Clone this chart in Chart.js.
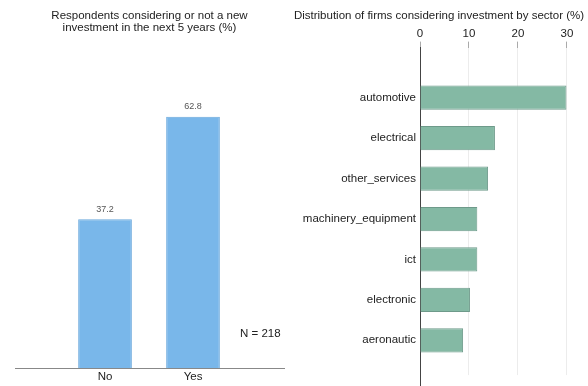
<!DOCTYPE html>
<html>
<head>
<meta charset="utf-8">
<script src="https://cdn.jsdelivr.net/npm/chart.js@4.4.1/dist/chart.umd.min.js"></script>
<style>
  body { margin: 0; background: #fff; }
  #wrap { position: relative; width: 588px; height: 386px; }
  #left { position: absolute; left: 0; top: 0; }
  #right { position: absolute; left: 290px; top: 0; }
</style>
</head>
<body>
<div id="wrap">
  <canvas id="left" width="290" height="386"></canvas>
  <canvas id="right" width="298" height="386"></canvas>
</div>
<script>
// left panel
const answers = ["No", "Yes"];
const answerPct = [37.2, 62.8];
const sampleNote = "N = 218";

// right panel
const sectors = ["automotive", "electrical", "other_services", "machinery_equipment", "ict", "electronic", "aeronautic"];
const sectorPct = [29.9, 15.3, 13.9, 11.7, 11.7, 10.2, 8.8];
const sectorTicks = [0, 10, 20, 30];

const fontFam = "'Liberation Sans', Arial, sans-serif";
Chart.defaults.font.family = fontFam;
Chart.defaults.color = "#222";
Chart.defaults.animation = false;

// valori sopra le barre + nota N
const leftLabels = {
  id: "leftLabels",
  afterDatasetsDraw(chart) {
    const ctx = chart.ctx;
    const meta = chart.getDatasetMeta(0);
    ctx.save();
    ctx.font = "9px " + fontFam;
    ctx.fillStyle = "#555";
    ctx.textAlign = "center";
    ctx.textBaseline = "middle";
    meta.data.forEach((bar, i) => {
      ctx.fillText(answerPct[i].toFixed(1), bar.x, bar.y - 10);
    });
    ctx.font = "11.5px " + fontFam;
    ctx.fillStyle = "#222";
    ctx.textAlign = "left";
    ctx.fillText(sampleNote, 240, 334);
    ctx.restore();
  }
};

// l'asse verticale arriva fino al bordo in basso
const axisToEdge = {
  id: "axisToEdge",
  afterDraw(chart) {
    const ctx = chart.ctx;
    const a = chart.chartArea;
    ctx.save();
    ctx.strokeStyle = "#444";
    ctx.lineWidth = 1;
    ctx.beginPath();
    ctx.moveTo(Math.round(a.left) + 0.5, a.bottom);
    ctx.lineTo(Math.round(a.left) + 0.5, chart.height);
    ctx.stroke();
    ctx.restore();
  }
};

new Chart(document.getElementById("left"), {
  type: "bar",
  data: {
    datasets: [{
      data: answers.map((a, i) => ({ x: i, y: answerPct[i] })),
      backgroundColor: "#79b7ea",
      borderColor: "#6aa8dc",
      borderWidth: 1,
      categoryPercentage: 1,
      barPercentage: 0.61
    }]
  },
  options: {
    responsive: false,
    layout: { padding: { left: 15, right: 6, bottom: 0 } },
    plugins: {
      legend: { display: false },
      tooltip: { enabled: false },
      title: {
        display: true,
        text: ["Respondents considering or not a new", "investment in the next 5 years (%)"],
        font: { size: 11.5, weight: "normal", lineHeight: 1.05 },
        color: "#222",
        padding: { top: 10, bottom: 12 }
      }
    },
    scales: {
      x: {
        type: "linear",
        offset: false,
        min: -1.023,
        max: 2.034,
        grid: { display: false, drawTicks: false },
        border: { color: "#888", width: 1 },
        afterBuildTicks: (s) => { s.ticks = answers.map((a, i) => ({ value: i })); },
        ticks: {
          padding: 2,
          font: { size: 11.5 },
          color: "#222",
          callback: (v) => answers[v]
        }
      },
      y: {
        display: false,
        min: 0,
        max: 80.4
      }
    }
  },
  plugins: [leftLabels]
});

new Chart(document.getElementById("right"), {
  type: "bar",
  data: {
    datasets: [{
      data: sectors.map((s, i) => ({ x: sectorPct[i], y: i })),
      backgroundColor: "#84b9a4",
      borderColor: "#6e9a8a",
      borderWidth: 1,
      categoryPercentage: 1,
      barPercentage: 0.6
    }]
  },
  options: {
    responsive: false,
    indexAxis: "y",
    layout: { padding: { left: 0, right: 0, bottom: 0 } },
    plugins: {
      legend: { display: false },
      tooltip: { enabled: false },
      title: {
        display: true,
        text: "Distribution of firms considering investment by sector (%)",
        font: { size: 11.5, weight: "normal" },
        color: "#222",
        padding: { top: 9, bottom: 3 }
      }
    },
    scales: {
      x: {
        type: "linear",
        position: "top",
        min: 0,
        max: 34.3,
        afterBuildTicks: (s) => { s.ticks = sectorTicks.map(v => ({ value: v })); },
        grid: {
          color: (c) => c.tick && c.tick.value === 0 ? "rgba(0,0,0,0)" : "#ececec",
          tickColor: "#aaa",
          tickLength: 6
        },
        border: { display: false },
        ticks: { padding: 1, font: { size: 11.5 }, color: "#222" }
      },
      y: {
        type: "linear",
        offset: false,
        reverse: true,
        min: -1.239,
        max: 6.86,
        afterBuildTicks: (s) => { s.ticks = sectors.map((n, i) => ({ value: i })); },
        afterFit: (s) => { s.width = 130; },
        grid: { display: false, drawTicks: false },
        border: { color: "#444", width: 1 },
        ticks: {
          padding: 4,
          font: { size: 11.5 },
          color: "#222",
          callback: (v) => sectors[v]
        }
      }
    }
  },
  plugins: [axisToEdge]
});
</script>
</body>
</html>
